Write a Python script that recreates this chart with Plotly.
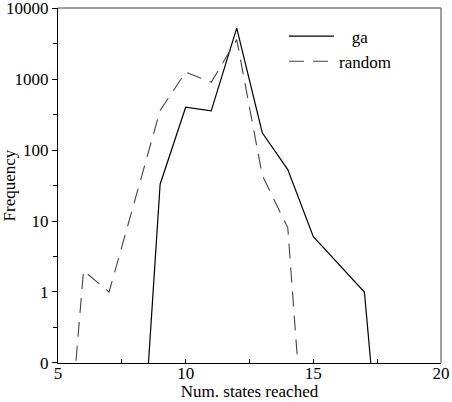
import plotly.graph_objects as go

# Data (frequency counts; 0 = no occurrences)
ga_x = [8, 9, 10, 11, 12, 13, 14, 15, 17, 18]
ga_y = [0, 33, 400, 355, 5200, 175, 53, 6, 1, 0]

random_x = [5, 6, 7, 9, 10, 11, 12, 13, 14, 15]
random_y = [0, 2, 1, 360, 1250, 900, 3600, 44, 8, 0]

y_tick_vals = [0.1, 1, 10, 100, 1000, 10000]
y_tick_text = ["0", "1", "10", "100", "1000", "10000"]
y_minor_vals = [0.316, 3.16, 31.6, 316, 3162]
x_tick_vals = [5, 10, 15, 20]
x_minor_vals = [7.5, 12.5, 17.5]

ZERO_FLOOR = 1e-4  # zero counts drawn far below axis, clipped by the plot area


def floor_zero(vals):
    return [v if v > 0 else ZERO_FLOOR for v in vals]


FONT = "Liberation Serif, serif"
TF = dict(family=FONT, size=17, color="black")

fig = go.Figure()
fig.add_trace(go.Scatter(
    x=ga_x, y=floor_zero(ga_y), mode="lines", name="\u00a0\u00a0\u00a0ga",
    line=dict(color="black", width=1.2),
))
fig.add_trace(go.Scatter(
    x=random_x, y=floor_zero(random_y), mode="lines", name="random",
    line=dict(color="#444444", width=1.1, dash="15px,9px"),
))

fig.update_layout(
    width=452, height=402,
    margin=dict(l=58, r=11, t=8, b=39, autoexpand=False),
    paper_bgcolor="white", plot_bgcolor="white",
    font=TF,
    showlegend=True,
    legend=dict(
        x=0.59, y=0.97, xanchor="left", yanchor="top",
        bgcolor="rgba(0,0,0,0)", borderwidth=0,
        font=TF,
        itemwidth=45, tracegroupgap=0,
    ),
    xaxis=dict(
        range=[5, 20], tickmode="array", tickvals=x_tick_vals,
        ticks="inside", ticklen=4, tickcolor="black", tickfont=TF,
        ticklabelstandoff=-6,
        showline=True, linecolor="black", linewidth=1.2,
        showgrid=False, zeroline=False, automargin=False,
        minor=dict(tickmode="array", tickvals=x_minor_vals, ticks="inside",
                   ticklen=4, tickcolor="black"),
        title=dict(text="Num. states reached", standoff=0, font=TF),
    ),
    yaxis=dict(
        type="log", range=[-1.0002, 4.0002], tickmode="array",
        tickvals=y_tick_vals, ticktext=y_tick_text,
        ticks="outside", ticklen=5, tickcolor="black", tickfont=TF,
        ticklabeloverflow="allow",
        showline=True, linecolor="black", linewidth=1.2,
        showgrid=False, zeroline=False, automargin=False,
        minor=dict(tickmode="array", tickvals=y_minor_vals, ticks="outside",
                   ticklen=4, tickcolor="black"),
        title=dict(text="Frequency", standoff=0, font=TF),
    ),
)

# grey frame on top and right
fig.add_shape(type="line", xref="paper", yref="paper", x0=0, x1=1, y0=1, y1=1,
              line=dict(color="#808080", width=1.5))
fig.add_shape(type="line", xref="paper", yref="paper", x0=1, x1=1, y0=0, y1=1,
              line=dict(color="#808080", width=1.5))

fig.write_html("out.html")
